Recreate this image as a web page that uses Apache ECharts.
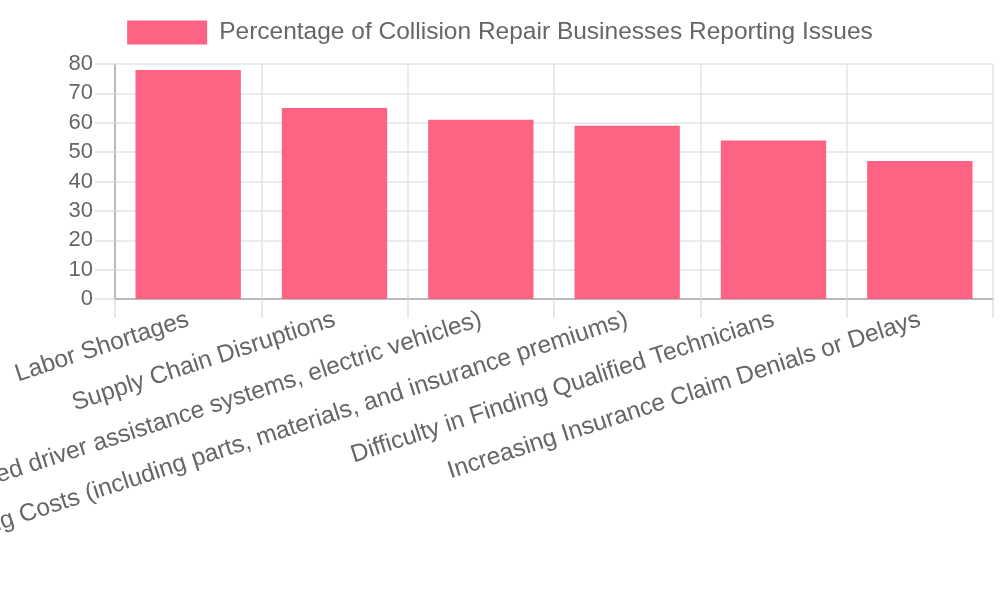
<!DOCTYPE html>
<html><head><meta charset="utf-8">
<script src="https://cdn.jsdelivr.net/npm/echarts@6/dist/echarts.min.js"></script>
<style>html,body{margin:0;padding:0;background:#fff}#c{width:1000px;height:600px}</style>
</head><body><div id="c"></div>
<script>
const categories = [
  "Labor Shortages",
  "Supply Chain Disruptions",
  "Adapting to New Technologies (e.g., advanced driver assistance systems, electric vehicles)",
  "Rising Operating Costs (including parts, materials, and insurance premiums)",
  "Difficulty in Finding Qualified Technicians",
  "Increasing Insurance Claim Denials or Delays"
];
const seriesName = "Percentage of Collision Repair Businesses Reporting Issues";
const values = [78, 65, 61, 59, 54, 47];

const chart = echarts.init(document.getElementById('c'));
const font = "'Liberation Sans', Arial, Helvetica, sans-serif";
chart.setOption({
  animation: false,
  textStyle: { fontFamily: font },
  legend: {
    left: 'center', top: 15,
    itemWidth: 80, itemHeight: 24, icon: 'rect',
    textStyle: { fontSize: 24.5, color: '#666', fontFamily: font, padding: [0, 0, 0, 7] },
    data: [seriesName]
  },
  grid: { left: 115, right: 7, top: 64, bottom: 301, containLabel: false, outerBoundsMode: 'none' },
  xAxis: {
    type: 'category', data: categories,
    axisLine: { lineStyle: { color: '#aaa', width: 1.5 } },
    axisTick: { show: true, length: 19, lineStyle: { color: '#e0e0e0', width: 1.5 } },
    splitLine: { show: true, lineStyle: { color: '#e5e5e5', width: 1.5 } },
    axisLabel: { rotate: 18, interval: 0, fontSize: 24.5, color: '#666', margin: 20, fontFamily: font }
  },
  yAxis: {
    type: 'value', min: 0, max: 80, interval: 10,
    axisLine: { show: true, lineStyle: { color: '#aaa', width: 1.5 } },
    axisTick: { show: true, length: 20, lineStyle: { color: '#e0e0e0', width: 1.5 } },
    splitLine: { show: true, lineStyle: { color: '#e5e5e5', width: 1.5 } },
    axisLabel: { fontSize: 22, color: '#666', margin: 22, fontFamily: font }
  },
  series: [{
    name: seriesName, type: 'bar', data: values,
    barCategoryGap: '28%',
    itemStyle: { color: '#ff6384' }
  }]
});
</script></body></html>
